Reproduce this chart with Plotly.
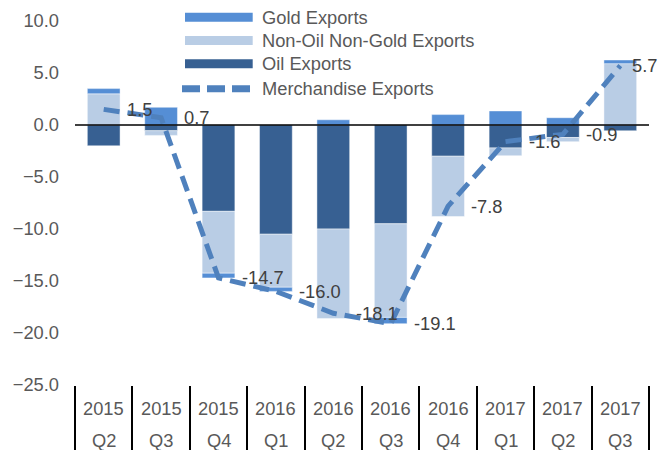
import plotly.graph_objects as go

years = ["2015", "2015", "2015", "2016", "2016", "2016", "2016", "2017", "2017", "2017"]
quarters = ["Q2", "Q3", "Q4", "Q1", "Q2", "Q3", "Q4", "Q1", "Q2", "Q3"]
categories = [f"{y} {q}" for y, q in zip(years, quarters)]

oil_exports = [-2.0, -0.55, -8.3, -10.5, -10.0, -9.5, -3.0, -2.2, -1.2, -0.55]
non_oil_non_gold = [3.0, -0.45, -5.95, -5.1, -8.6, -9.0, -5.8, -0.75, -0.4, 5.9]
gold_exports = [0.5, 1.7, -0.45, -0.4, 0.5, -0.6, 1.0, 1.35, 0.7, 0.35]
merchandise_exports = [1.5, 0.7, -14.7, -16.0, -18.1, -19.1, -7.8, -1.6, -0.9, 5.7]

series_names = ["Gold Exports", "Non-Oil Non-Gold Exports", "Oil Exports", "Merchandise Exports"]

C_OIL = "#376092"
C_NONOIL = "#B9CDE5"
C_GOLD = "#558ED5"
C_LINE = "#4F81BD"
FONT = "Arial, Liberation Sans, sans-serif"
GRAY = "#595959"
FS = 18.3

W, H = 664, 450
ML, MR, MT, MB = 75, 15, 20.5, 65
PW, PH = W - ML - MR, H - MT - MB


def px_x(px):
    return (px - ML) / PW


def px_y(py):
    return (H - MB - py) / PH


fig = go.Figure()
edge = dict(width=0.8, color="rgba(255,255,255,0.55)")
fig.add_bar(x=categories, y=oil_exports, marker=dict(color=C_OIL, line=edge), width=0.57,
            name=series_names[2])
fig.add_bar(x=categories, y=non_oil_non_gold, marker=dict(color=C_NONOIL, line=edge), width=0.57,
            name=series_names[1])
fig.add_bar(x=categories, y=gold_exports, marker=dict(color=C_GOLD, line=edge), width=0.57,
            name=series_names[0])
fig.add_scatter(x=categories, y=merchandise_exports, mode="lines",
                line=dict(color=C_LINE, width=5, dash="16px,8px"),
                name=series_names[3])

annotations = []
shapes = [dict(type="line", xref="paper", yref="y", x0=0, x1=1, y0=0, y1=0,
               line=dict(color="black", width=1.6), layer="above")]

# data labels for the line
for i, (c, v) in enumerate(zip(categories, merchandise_exports)):
    annotations.append(dict(x=c, y=v, xref="x", yref="y", text=f"{v:.1f}", showarrow=False,
                            xanchor="left", yanchor="middle",
                            xshift=21 if i < len(categories) - 1 else 10,
                            font=dict(family=FONT, size=FS, color="#404040")))
# two-line category labels
for c, yv, q in zip(categories, years, quarters):
    annotations.append(dict(x=c, y=0, xref="x", yref="paper", text=yv, showarrow=False,
                            yanchor="middle", yshift=-23, font=dict(family=FONT, size=FS, color=GRAY)))
    annotations.append(dict(x=c, y=0, xref="x", yref="paper", text=q, showarrow=False,
                            yanchor="middle", yshift=-55, font=dict(family=FONT, size=FS, color=GRAY)))

# legend (wide swatches like the original)
legend_rows = [16.7, 40.0, 63.3, 88.3]
legend_colors = [C_GOLD, C_NONOIL, C_OIL, C_LINE]
sw_x0, sw_x1, txt_x = 185, 252.7, 260
for k, (nm, col, ry) in enumerate(zip(series_names, legend_colors, legend_rows)):
    if k < 3:
        shapes.append(dict(type="rect", xref="paper", yref="paper",
                           x0=px_x(sw_x0), x1=px_x(sw_x1), y0=px_y(ry - 4.5), y1=px_y(ry + 4.5),
                           fillcolor=col, line=dict(width=0), layer="above"))
    else:
        shapes.append(dict(type="line", xref="paper", yref="paper",
                           x0=px_x(182), x1=px_x(250), y0=px_y(ry), y1=px_y(ry),
                           line=dict(color=col, width=7, dash="18px,7px"), layer="above"))
    annotations.append(dict(x=px_x(txt_x), y=px_y(ry), xref="paper", yref="paper", text=nm,
                            showarrow=False, xanchor="left", yanchor="middle",
                            font=dict(family=FONT, size=FS, color=GRAY)))

fig.update_layout(
    width=W, height=H,
    margin=dict(l=ML, r=MR, t=MT, b=MB, autoexpand=False),
    barmode="relative",
    paper_bgcolor="white", plot_bgcolor="white",
    font=dict(family=FONT, size=FS, color=GRAY),
    showlegend=False,
    annotations=annotations,
    shapes=shapes,
)
fig.update_xaxes(type="category", categoryorder="array", categoryarray=categories,
                 showticklabels=False, ticks="outside", tickson="boundaries",
                 ticklen=66, tickwidth=2, tickcolor="black", showline=False,
                 showgrid=False, zeroline=False, range=[-0.5, 9.5])
fig.update_yaxes(range=[-25, 10], dtick=5, tick0=0, tickformat=".1f", showgrid=False,
                 zeroline=False, showline=False, ticks="", ticklabelstandoff=15,
                 tickfont=dict(family=FONT, size=FS, color=GRAY))

fig.write_html("out.html", config={"displayModeBar": False},
               post_script="document.body.style.margin='0';document.body.style.overflow='hidden';")
